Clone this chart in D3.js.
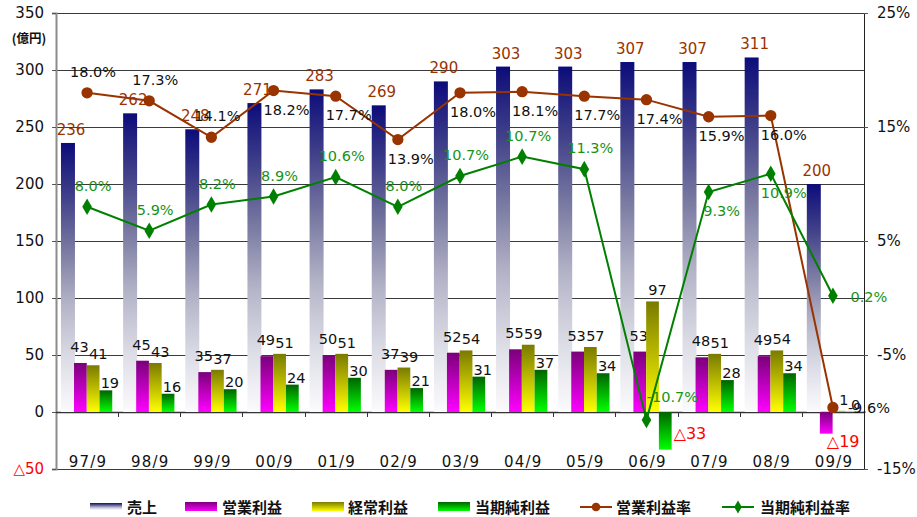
<!DOCTYPE html>
<html>
<head>
<meta charset="utf-8">
<script src="https://cdn.jsdelivr.net/npm/d3@7"></script>
<style>
body { margin: 0; background: #fff; }
text { font-family: "DejaVu Sans", sans-serif; }
.jp { font-family: "Noto Sans CJK JP", sans-serif; font-weight: bold; }
</style>
</head>
<body>
<div id="chart"></div>
<script>
'use strict';

// ---- data -------------------------------------------------------
var categories = ['97/9', '98/9', '99/9', '00/9', '01/9', '02/9', '03/9', '04/9', '05/9', '06/9', '07/9', '08/9', '09/9'];
var sales      = [236, 262, 248, 271, 283, 269, 290, 303, 303, 307, 307, 311, 200];
var opProfit   = [43, 45, 35, 49, 50, 37, 52, 55, 53, 53, 48, 49, -19];
var ordProfit  = [41, 43, 37, 51, 51, 39, 54, 59, 57, 97, 51, 54, 1];
var netProfit  = [19, 16, 20, 24, 30, 21, 31, 37, 34, -33, 28, 34, 0];
var opRate     = [18.0, 17.3, 14.1, 18.2, 17.7, 13.9, 18.0, 18.1, 17.7, 17.4, 15.9, 16.0, -9.6];
var netRate    = [8.0, 5.9, 8.2, 8.9, 10.6, 8.0, 10.7, 12.4, 11.3, -10.7, 9.3, 10.9, 0.2];
// the 04/9 point sits near 12.4% but its label reads 10.7%
var netRateLabels = ['8.0%', '5.9%', '8.2%', '8.9%', '10.6%', '8.0%', '10.7%', '10.7%', '11.3%', '-10.7%', '9.3%', '10.9%', '0.2%'];
var leftTicks  = [350, 300, 250, 200, 150, 100, 50, 0, -50];
var rightTicks = [25, 15, 5, -5, -15];
// where each rate label sits: a = above, c = above right, b = below, r = right
var opRatePos  = ['a', 'a', 'a', 'b', 'b', 'b', 'b', 'b', 'b', 'b', 'b', 'b', 'r'];
var netRatePos = ['a', 'a', 'a', 'a', 'a', 'a', 'a', 'a', 'a', 'c', 'b', 'b', 'r'];

function comboChart()
{
    var scope = this;
    var exports = {};

    scope.margins = {left: 56, right: 53, top: 13, bottom: 48};
    scope.cw = undefined;
    scope.ch = undefined;

    scope.xScale = undefined;
    scope.yScale = undefined;
    scope.rScale = undefined;

    scope.brown = '#993300';
    scope.green = '#008000';

    scope.appendSvg = function(div)
    {
        var node = d3.select(div).append('svg')
            .attr('width', 917)
            .attr('height', 517);
        return node;
    }

    scope.appendGradients = function(svg)
    {
        var defs = svg.append('defs');
        var grads = [
            {id: 'gSales', stops: [[0, '#0c0c7a'], [0.2, '#40408a'], [0.4, '#7a7aa2'], [0.6, '#b4b4c8'], [0.8, '#dcdce6'], [1, '#fbfbfd']]},
            {id: 'gOp',    stops: [[0, '#7a007a'], [1, '#ff00ff']]},
            {id: 'gOrd',   stops: [[0, '#7a7a00'], [1, '#ffff00']]},
            {id: 'gNet',   stops: [[0, '#006400'], [1, '#00ff00']]}
        ];
        grads.forEach(function(g) {
            var lg = defs.append('linearGradient').attr('id', g.id)
                .attr('x1', 0).attr('y1', 0).attr('x2', 0).attr('y2', 1);
            g.stops.forEach(function(s) {
                lg.append('stop').attr('offset', s[0]).attr('stop-color', s[1]);
            });
        });
    }

    scope.createScales = function()
    {
        scope.xScale = d3.scaleBand().domain(categories).range([0, scope.cw]);
        scope.yScale = d3.scaleLinear().domain([-50, 350]).range([scope.ch, 0]);
        scope.rScale = d3.scaleLinear().domain([-15, 25]).range([scope.ch, 0]);
    }

    scope.createAxes = function(chart)
    {
        // gridlines
        chart.append('g').selectAll('line')
            .data(leftTicks.filter(function(d) { return d !== 0; }))
            .enter().append('line')
            .attr('x1', 0).attr('x2', scope.cw)
            .attr('y1', function(d) { return scope.yScale(d) + 0.5; })
            .attr('y2', function(d) { return scope.yScale(d) + 0.5; })
            .attr('stroke', '#3a3a3a').attr('stroke-width', 1);

        // right frame
        chart.append('line')
            .attr('x1', scope.cw + 0.5).attr('x2', scope.cw + 0.5)
            .attr('y1', 0).attr('y2', scope.ch)
            .attr('stroke', '#222');

        var left = chart.append('g')
            .call(d3.axisLeft(scope.yScale).tickValues(leftTicks).tickSize(4)
                .tickFormat(function(d) { return d < 0 ? '\u25b3' + (-d) : d; }));
        left.select('.domain').attr('stroke', '#8c8c8c').attr('stroke-width', 2);
        left.selectAll('.tick line').attr('stroke', '#555');
        left.selectAll('.tick text')
            .attr('x', -12)
            .style('font-size', '15px')
            .style('font-family', '"DejaVu Sans", sans-serif')
            .attr('fill', function(d) { return d < 0 ? '#ff0000' : '#111'; });

        var right = chart.append('g')
            .attr('transform', 'translate(' + scope.cw + ',0)')
            .call(d3.axisRight(scope.rScale).tickValues(rightTicks).tickSize(4)
                .tickFormat(function(d) { return (d < 0 ? '-' + (-d) : d) + '%'; }));
        right.select('.domain').remove();
        right.selectAll('.tick line').attr('stroke', '#555');
        right.selectAll('.tick text')
            .attr('x', 13)
            .style('font-size', '15px')
            .style('font-family', '"DejaVu Sans", sans-serif')
            .attr('fill', '#111');

        // zero axis with ticks between categories
        var y0 = scope.yScale(0);
        chart.append('line')
            .attr('x1', 0).attr('x2', scope.cw)
            .attr('y1', y0 + 0.5).attr('y2', y0 + 0.5)
            .attr('stroke', '#333').attr('stroke-width', 1.5);
        chart.append('g').selectAll('line')
            .data(categories.slice(1))
            .enter().append('line')
            .attr('x1', function(d) { return Math.round(scope.xScale(d)) + 0.5; })
            .attr('x2', function(d) { return Math.round(scope.xScale(d)) + 0.5; })
            .attr('y1', y0).attr('y2', y0 + 5)
            .attr('stroke', '#333');

        chart.append('g').selectAll('text')
            .data(categories)
            .enter().append('text')
            .attr('x', function(d) { return scope.xScale(d) + scope.xScale.bandwidth() / 2 + 1; })
            .attr('y', scope.ch - 2)
            .attr('text-anchor', 'middle')
            .style('font-size', '15px')
            .style('letter-spacing', '1.2px')
            .attr('fill', '#111')
            .text(function(d) { return d; });
    }

    scope.appendBars = function(chart)
    {
        var bw = scope.xScale.bandwidth();
        var y = scope.yScale;

        chart.append('g').selectAll('rect')
            .data(sales)
            .enter().append('rect')
            .attr('x', function(d, i) { return scope.xScale(categories[i]) + bw * 0.08; })
            .attr('width', bw * 0.225)
            .attr('y', function(d) { return y(d); })
            .attr('height', function(d) { return y(0) - y(d); })
            .attr('fill', 'url(#gSales)');

        var pw = bw * 0.205;
        var series = [
            {values: opProfit,  fill: 'url(#gOp)',  k: 0, dx: -1, dy: -11, neg: {dx: 7, dy: 13}},
            {values: ordProfit, fill: 'url(#gOrd)', k: 1, dx: 5,  dy: -6,  neg: {dx: 7, dy: 13}},
            {values: netProfit, fill: 'url(#gNet)', k: 2, dx: 4,  dy: -2,  neg: {dx: pw + 2, dy: -11}}
        ];

        series.forEach(function(s) {
            var xs = function(i) { return scope.xScale(categories[i]) + bw * 0.29 + s.k * pw; };
            var g = chart.append('g');
            g.selectAll('rect')
                .data(s.values)
                .enter().append('rect')
                .attr('x', function(d, i) { return xs(i); })
                .attr('width', pw)
                .attr('y', function(d) { return y(Math.max(d, 0)); })
                .attr('height', function(d) { return Math.abs(y(0) - y(d)); })
                .attr('fill', s.fill);

            g.selectAll('text')
                .data(s.values)
                .enter().append('text')
                .attr('x', function(d, i) { return d < 0 ? xs(i) + s.neg.dx : xs(i) + pw / 2 + s.dx; })
                .attr('y', function(d) { return d < 0 ? y(d) + s.neg.dy : y(d) + s.dy; })
                .attr('text-anchor', function(d) { return d < 0 ? 'start' : 'middle'; })
                .style('font-size', function(d) { return d < 0 ? '16px' : '14.5px'; })
                .attr('fill', function(d) { return d < 0 ? '#ff0000' : '#111'; })
                .text(function(d) { return d < 0 ? '\u25b3' + (-d) : d; });
        });

        // sales labels
        chart.append('g').selectAll('text')
            .data(sales)
            .enter().append('text')
            .attr('x', function(d, i) { return scope.xScale(categories[i]) + bw * 0.08 + bw * 0.1125 + 3; })
            .attr('y', function(d) { return y(d) - 8; })
            .attr('text-anchor', 'middle')
            .style('font-size', '15px')
            .attr('fill', scope.brown)
            .text(function(d) { return d; });
    }

    scope.appendLine = function(chart, values, labels, pos, color, marker, labelColor)
    {
        var bw = scope.xScale.bandwidth();
        var cx = function(i) { return scope.xScale(categories[i]) + bw / 2; };
        var line = d3.line()
            .x(function(d, i) { return cx(i); })
            .y(function(d) { return scope.rScale(d); });

        var g = chart.append('g');
        g.append('path')
            .attr('d', line(values))
            .attr('fill', 'none')
            .attr('stroke', color)
            .attr('stroke-width', 2);

        g.selectAll('path.pt')
            .data(values)
            .enter().append('path')
            .attr('class', 'pt')
            .attr('transform', function(d, i) { return 'translate(' + cx(i) + ',' + scope.rScale(d) + ')'; })
            .attr('d', d3.symbol().type(marker).size(marker === d3.symbolCircle ? 100 : 80))
            .attr('fill', color);

        var off = {a: [6, -16], c: [26, -18], b: [13, 24], r: [36, 6]};
        g.selectAll('text')
            .data(values)
            .enter().append('text')
            .attr('x', function(d, i) { return cx(i) + off[pos[i]][0]; })
            .attr('y', function(d, i) { return scope.rScale(d) + off[pos[i]][1]; })
            .attr('text-anchor', 'middle')
            .style('font-size', '14.5px')
            .attr('fill', labelColor)
            .text(function(d, i) { return labels[i]; });
    }

    scope.appendLegend = function(svg)
    {
        var items = [
            {x: 90,  tx: 127, type: 'rect', fill: 'url(#gSales)', h: 7, label: '売上'},
            {x: 185, tx: 222, type: 'rect', fill: 'url(#gOp)',    h: 9, label: '営業利益'},
            {x: 312, tx: 348, type: 'rect', fill: 'url(#gOrd)',   h: 9, label: '経常利益'},
            {x: 438, tx: 475, type: 'rect', fill: 'url(#gNet)',   h: 9, label: '当期純利益'},
            {x: 580, tx: 616, type: 'line', color: scope.brown, marker: d3.symbolCircle, label: '営業利益率'},
            {x: 722, tx: 760, type: 'line', color: scope.green, marker: d3.symbolDiamond, label: '当期純利益率'}
        ];
        var ly = 507;
        var legend = svg.append('g');
        items.forEach(function(it) {
            if (it.type === 'rect') {
                legend.append('rect')
                    .attr('x', it.x).attr('y', ly - it.h / 2 - 0.5)
                    .attr('width', 32).attr('height', it.h)
                    .attr('fill', it.fill);
            } else {
                legend.append('line')
                    .attr('x1', it.x).attr('x2', it.x + 32)
                    .attr('y1', ly).attr('y2', ly)
                    .attr('stroke', it.color).attr('stroke-width', 2);
                legend.append('path')
                    .attr('transform', 'translate(' + (it.x + 16) + ',' + ly + ')')
                    .attr('d', d3.symbol().type(it.marker).size(it.marker === d3.symbolCircle ? 60 : 50))
                    .attr('fill', it.color);
            }
            legend.append('text')
                .attr('class', 'jp')
                .attr('x', it.tx).attr('y', ly + 6)
                .style('font-size', '15px')
                .attr('fill', '#111')
                .text(it.label);
        });
    }

    //------------- exported API -----------------------------------

    exports.run = function(div)
    {
        scope.cw = 917 - scope.margins.left - scope.margins.right;
        scope.ch = 517 - scope.margins.top - scope.margins.bottom;

        var svg = scope.appendSvg(div);
        scope.appendGradients(svg);
        var chart = svg.append('g')
            .attr('transform', 'translate(' + scope.margins.left + ',' + scope.margins.top + ')');

        scope.createScales();
        scope.createAxes(chart);
        scope.appendBars(chart);
        scope.appendLine(chart, opRate, opRate.map(function(d) { return d.toFixed(1) + '%'; }),
            opRatePos, scope.brown, d3.symbolCircle, '#111');
        scope.appendLine(chart, netRate, netRateLabels, netRatePos, scope.green, d3.symbolDiamond, '#179317');
        scope.appendLegend(svg);

        svg.append('text')
            .attr('class', 'jp')
            .attr('x', 29).attr('y', 43)
            .attr('text-anchor', 'middle')
            .style('font-size', '12.5px')
            .attr('fill', '#111')
            .text('(億円)');
    }

    return exports;
}

var chart = new comboChart();
chart.run('#chart');
</script>
</body>
</html>
